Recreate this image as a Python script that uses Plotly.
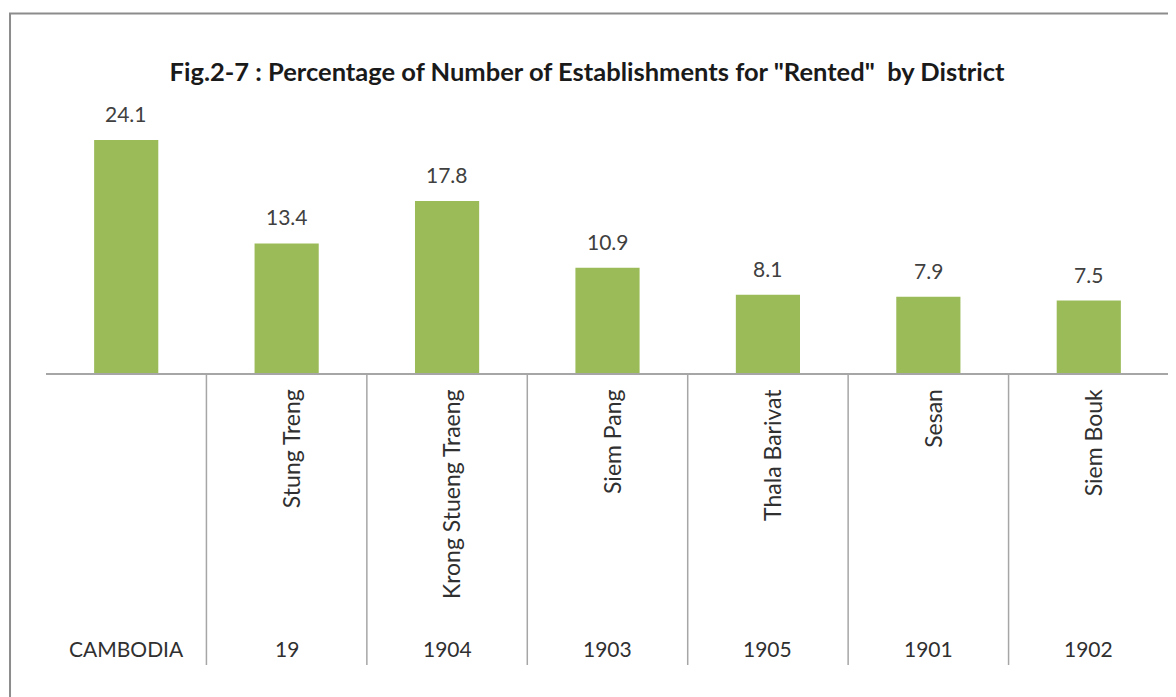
import plotly.graph_objects as go

codes = ["CAMBODIA", "19", "1904", "1903", "1905", "1901", "1902"]
districts = ["", "Stung Treng", "Krong Stueng Traeng", "Siem Pang", "Thala Barivat", "Sesan", "Siem Bouk"]
values = [24.1, 13.4, 17.8, 10.9, 8.1, 7.9, 7.5]
title = 'Fig.2-7 : Percentage of Number of Establishments for "Rented"  by District'

OFF = 8  # page body margin
W, H = 1176 - OFF, 697 - OFF
# plot area in screen pixels: x 45.5..1169, y 83..373
L = 45.5 - OFF
R = W - (1169 - OFF)
T = 83 - OFF
B = H - (373 - OFF)
pw, ph = W - L - R, H - T - B

def sy(py):  # screen y -> paper y
    return ((373 - OFF) - (py - OFF)) / ph

def sx(px):  # screen x -> paper x
    return ((px - OFF) - L) / pw

FONT = "Lato"
GRAY = "#A6A6A6"
idx = list(range(len(codes)))

fig = go.Figure()
fig.add_trace(go.Bar(x=idx, y=values, marker=dict(color="#9BBB59", line=dict(width=0)),
                     width=0.4, customdata=codes, hovertemplate="%{customdata}: %{y}<extra></extra>"))

annotations = []
for i, v in zip(idx, values):
    annotations.append(dict(x=i, y=v, xref="x", yref="y", text=f"{v:.1f}", showarrow=False,
                            yanchor="bottom", yshift=12,
                            font=dict(family=FONT, size=21, color="#404040")))
for i, c, d in zip(idx, codes, districts):
    if d:
        annotations.append(dict(x=i, y=sy(387), xref="x", yref="paper", text=d, showarrow=False,
                                textangle=-90, yanchor="top", xanchor="center", xshift=4,
                                font=dict(family=FONT, size=23, color="#303030")))
    annotations.append(dict(x=i, y=sy(648), xref="x", yref="paper", text=c, showarrow=False,
                            yanchor="middle", xanchor="center",
                            font=dict(family=FONT, size=21, color="#303030")))

shapes = []
for i in idx:
    shapes.append(dict(type="line", xref="x", yref="paper", x0=i + 0.5, x1=i + 0.5,
                       y0=0, y1=sy(665), line=dict(color=GRAY, width=1.5)))
shapes.append(dict(type="rect", xref="paper", yref="paper",
                   x0=sx(9.5), x1=sx(1190), y0=sy(13.5), y1=sy(720),
                   line=dict(color="#8C8C8C", width=2)))

fig.update_layout(
    width=W, height=H,
    margin=dict(l=L, r=R, t=T, b=B),
    paper_bgcolor="white", plot_bgcolor="white",
    showlegend=False,
    title=dict(text=f"<b>{title}</b>", x=(587 - OFF) / W, xanchor="center",
               y=1 - (72 - OFF) / H, yanchor="middle",
               font=dict(family=FONT, size=25.5, color="#1a1a1a")),
    xaxis=dict(showline=True, linecolor=GRAY, linewidth=1.5,
               showticklabels=False, ticks="", showgrid=False, zeroline=False,
               range=[-0.5, len(codes) - 0.5]),
    yaxis=dict(range=[0, 30], visible=False, showgrid=False, zeroline=False),
    annotations=annotations,
    shapes=shapes,
)

fig.write_html("out.html")
